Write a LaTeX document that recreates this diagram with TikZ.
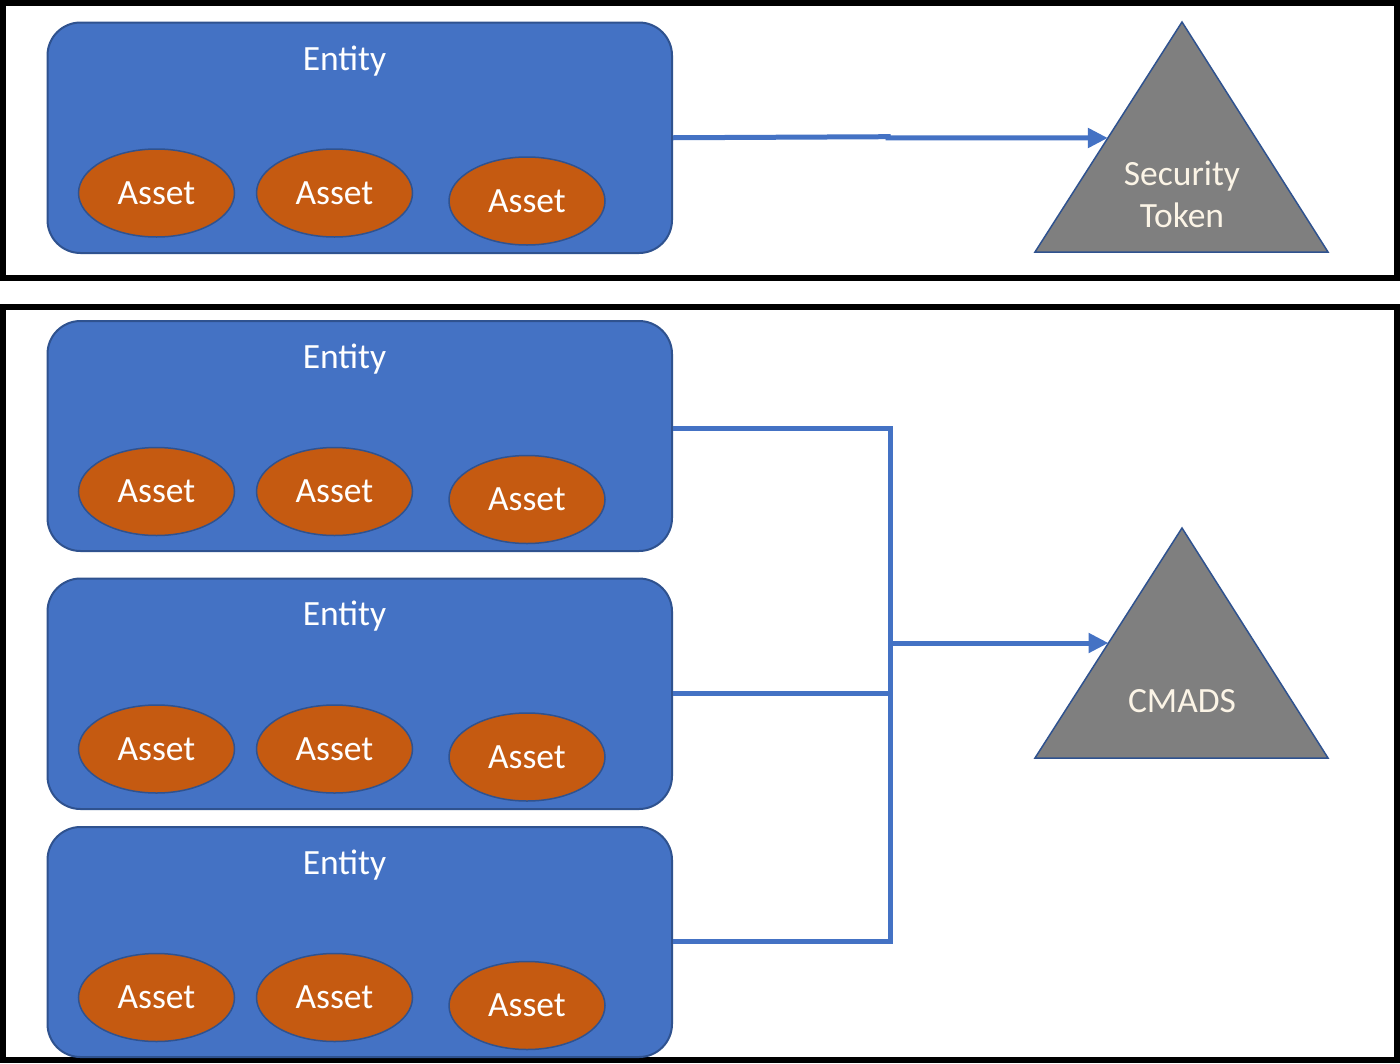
\documentclass[tikz,border=0pt]{standalone}
\usepackage{fontspec}
\setmainfont{Carlito}
\usetikzlibrary{calc,arrows.meta,shapes.geometric}
\definecolor{entblue}{HTML}{4472C4}
\definecolor{edgeblue}{HTML}{2F528F}
\definecolor{assetorange}{HTML}{C55A11}
\definecolor{tokengray}{HTML}{7F7F7F}
\definecolor{creamtext}{HTML}{FBF4E6}
\tikzset{
  panel/.style={draw=black,line width=6pt},
  entitybox/.style={draw=edgeblue,fill=entblue,line width=2pt,rounded corners=33pt,
    minimum width=624.5pt,minimum height=230.5pt,inner sep=0pt,anchor=north west},
  entitytext/.style={text=white,anchor=base,inner sep=0pt,font=\fontsize{35.5pt}{42pt}\selectfont},
  assetnode/.style={ellipse,draw=edgeblue,fill=assetorange,line width=1.5pt,
    minimum width=156pt,minimum height=88pt,inner sep=0pt,text=white,
    font=\fontsize{35.5pt}{42pt}\selectfont},
  tokenshape/.style={draw=edgeblue,fill=tokengray,line width=1.5pt,line join=miter},
  tokentext/.style={text=creamtext,anchor=base,inner sep=0pt,font=\fontsize{35.5pt}{42pt}\selectfont},
  link/.style={draw=entblue,line width=5pt,line join=miter},
  linkarrow/.style={link,-{Triangle[length=20pt,width=19pt]}}
}
\begin{document}
\begin{tikzpicture}[x=1pt,y=-1pt]
\useasboundingbox (0,0) rectangle (1400,1063);
\fill[white] (0,0) rectangle (1400,1063);
% panels
\draw[panel] (3,3) rectangle (1397,278);
\draw[panel] (3,307) rectangle (1397,1060);

% ---------- top panel ----------
\node[entitybox] (e0) at (46.5,21.5) {};
\node[entitytext] (e0t) at ($(e0.north west)+(298,48.5)$) {Entity};
\node[assetnode] (a01) at ($(e0.north west)+(110,171.5)$) {Asset};
\node[assetnode] (a02) at ($(e0.north west)+(288,171.5)$) {Asset};
\node[assetnode] (a03) at ($(e0.north west)+(480.5,179.5)$) {Asset};

\coordinate (t0a) at (1182,22);
\coordinate (t0b) at (1035,252);
\coordinate (t0c) at (1328,252);
\draw[tokenshape] (t0a) -- (t0b) -- (t0c) -- cycle;
\node[tokentext] (t0s) at (1182,185.5) {Security};
\node[tokentext] (t0k) at (1182,227.5) {Token};
\coordinate (t0in) at ($(t0b)!0.4957!(t0a)$);
\coordinate (j0) at (888,136.7);
\draw[linkarrow] (e0.east) -- (j0) |- (t0in);

% ---------- bottom panel ----------
\node[entitybox,minimum height=230pt] (e1) at (46.5,320) {};
\node[entitybox] (e2) at (46.5,577.5) {};
\node[entitybox,minimum height=230pt] (e3) at (46.5,826) {};
\foreach \e in {e1,e2,e3}{
  \node[entitytext] (\e t) at ($(\e.north west)+(298,48)$) {Entity};
  \node[assetnode] (\e a1) at ($(\e.north west)+(110,171.5)$) {Asset};
  \node[assetnode] (\e a2) at ($(\e.north west)+(288,171.5)$) {Asset};
  \node[assetnode] (\e a3) at ($(\e.north west)+(480.5,179.5)$) {Asset};
}

\coordinate (t1a) at (1182,528);
\coordinate (t1b) at (1035,758);
\coordinate (t1c) at (1328,758);
\draw[tokenshape] (t1a) -- (t1b) -- (t1c) -- cycle;
\node[tokentext] (t1s) at (1182,712.5) {CMADS};
\coordinate (t1in) at ($(t1b)!0.5!(t1a)$);

\coordinate (j1) at (890,428);
\coordinate (j3) at (890,941.5);
\coordinate (jm) at (890,643);
\draw[link] (e1.east |- j1) -- (j1) -- (j3) -- (e3.east |- j3);
\draw[link] (e2.east) -- (e2.east -| j1);
\draw[linkarrow] (jm) -- (t1in);
\end{tikzpicture}
\end{document}
